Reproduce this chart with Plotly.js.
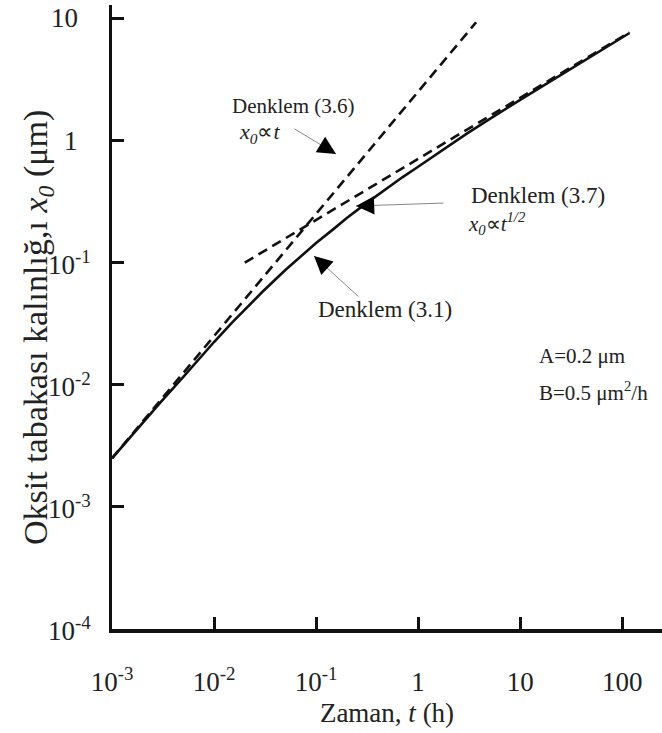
<!DOCTYPE html>
<html>
<head>
<meta charset="utf-8">
<script src="https://cdn.plot.ly/plotly-3.0.1.min.js"></script>
<style>html,body{margin:0;padding:0;background:#fff;}#chart{width:662px;height:733px;}</style>
</head>
<body>
<div id="chart"></div>
<script>
// Denklem (3.1): full curve
const tSolid = [0.001, 0.002, 0.003, 0.005, 0.007, 0.01, 0.015, 0.02, 0.03, 0.05, 0.07, 0.1, 0.15, 0.2, 0.3, 0.5, 0.7, 1, 1.5, 2, 3, 5, 7, 10, 15, 20, 30, 50, 70, 100, 118];
const xSolid = [0.0025, 0.0049, 0.0072, 0.0116, 0.016, 0.0224, 0.0323, 0.0414, 0.058, 0.087, 0.112, 0.145, 0.19, 0.232, 0.3, 0.41, 0.5, 0.61, 0.77, 0.9, 1.14, 1.5, 1.8, 2.15, 2.65, 3.07, 3.8, 4.9, 5.85, 7.0, 7.6];
// Denklem (3.6): linear limit x0 ∝ t
const tLinear = [0.001, 0.01, 0.1, 1, 3.7];
const xLinear = [0.0025, 0.025, 0.25, 2.5, 9.3];
// Denklem (3.7): parabolic limit x0 ∝ t^1/2
const tParab = [0.02, 0.1, 1, 10, 100, 118];
const xParab = [0.1, 0.224, 0.71, 2.24, 7.1, 7.7];

const xTickVals = [0.001, 0.01, 0.1, 1, 10, 100];
const xTickText = ['10<sup>-3</sup>', '10<sup>-2</sup>', '10<sup>-1</sup>', '1', '10', '100'];
const yTickVals = [0.0001, 0.001, 0.01, 0.1, 1, 10];
const yTickText = ['10<sup>-4</sup>', '10<sup>-3</sup>', '10<sup>-2</sup>', '10<sup>-1</sup>', '1', '10'];

const FONT = 'Liberation Serif';

const traces = [
  {x: tLinear, y: xLinear, mode: 'lines', line: {color: '#111', width: 2.6, dash: '10px,6px'}, showlegend: false},
  {x: tParab, y: xParab, mode: 'lines', line: {color: '#111', width: 2.6, dash: '10px,6px'}, showlegend: false},
  {x: tSolid, y: xSolid, mode: 'lines', line: {color: '#111', width: 2.6}, showlegend: false}
];

// paper coords: plot spans x 112..662 px, y 5..629 px
function px(xp) { return (xp - 112) / 550; }
function py(yp) { return (629 - yp) / 624; }

function txt(xp, yp, text, anchor, size) {
  return {xref: 'paper', yref: 'paper', x: px(xp), y: py(yp), text: text, showarrow: false,
    xanchor: anchor, yanchor: 'middle', font: {family: FONT, size: size || 23, color: '#222'}};
}

function arrow(xt, yt, xs, ys) {
  // gray shaft plus black head
  return [
    {xref: 'paper', yref: 'paper', x: px(xt), y: py(yt), ax: xs - xt, ay: ys - yt, text: '',
      showarrow: true, arrowhead: 0, arrowwidth: 1, arrowcolor: '#888', standoff: 0},
    {xref: 'paper', yref: 'paper', x: px(xt), y: py(yt), ax: (xs - xt) * 0.2, ay: (ys - yt) * 0.2, text: '',
      showarrow: true, arrowhead: 2, arrowsize: 2.6, arrowwidth: 1.4, arrowcolor: '#000', standoff: 0}
  ];
}

// y tick labels placed on the y scale (log axis: position = log10 of value)
const yTickLabels = yTickVals.map((v, i) => ({
  xref: 'paper', yref: 'y', x: px(yTickText[i].indexOf('<sup>') >= 0 ? 93 : 80), y: Math.log10(v),
  text: yTickText[i], showarrow: false,
  xanchor: 'right', yanchor: 'middle', font: {family: FONT, size: 27, color: '#222'}
}));

const yTitle = {xref: 'paper', yref: 'paper', x: px(38), y: py(328), textangle: -90, showarrow: false,
  xanchor: 'center', yanchor: 'middle',
  text: 'Oksit tabakası kalınlığ,ı <i>x<sub>0</sub></i> (μm)',
  font: {family: FONT, size: 34, color: '#222'}};

const annotations = [
  yTitle,
  txt(293, 106, 'Denklem (3.6)', 'center', 21),
  txt(237, 133, '<i>x<sub>0</sub></i>∝<i>t</i>', 'left', 22),
  txt(538, 195, 'Denklem (3.7)', 'center'),
  txt(466, 223, '<i>x<sub>0</sub></i>∝<i>t<sup>1/2</sup></i>', 'left', 21),
  txt(385, 309, 'Denklem (3.1)', 'center'),
  txt(537, 356, 'A=0.2 μm', 'left', 21),
  txt(537, 391, 'B=0.5 μm<sup>2</sup>/h', 'left', 21)
].concat(yTickLabels, arrow(336, 154, 293, 128), arrow(356, 206, 445, 203), arrow(314, 256, 360, 298));

const layout = {
  width: 662, height: 733,
  margin: {l: 112, r: 0, t: 5, b: 104, pad: 0},
  paper_bgcolor: '#fff', plot_bgcolor: '#fff',
  font: {family: FONT, color: '#222'},
  showlegend: false,
  xaxis: {
    type: 'log', range: [-3, 2.39], showgrid: false, zeroline: false,
    showline: true, linecolor: '#111', linewidth: 3.5, mirror: false,
    ticks: 'inside', ticklen: 12, tickwidth: 3, tickcolor: '#111',
    tickvals: xTickVals, ticktext: xTickText, ticklabelstandoff: 26,
    tickfont: {family: FONT, size: 27, color: '#222'},
    title: {text: 'Zaman, <i>t</i> (h)', font: {family: FONT, size: 27, color: '#222'}, standoff: 8}
  },
  yaxis: {
    type: 'log', range: [-4, 1.11], showgrid: false, zeroline: false,
    showline: true, linecolor: '#111', linewidth: 3.5, mirror: false,
    ticks: 'inside', ticklen: 12, tickwidth: 3, tickcolor: '#111',
    tickvals: yTickVals, showticklabels: false
  },
  annotations: annotations
};

Plotly.newPlot('chart', traces, layout, {displayModeBar: false, staticPlot: true});
</script>
</body>
</html>
